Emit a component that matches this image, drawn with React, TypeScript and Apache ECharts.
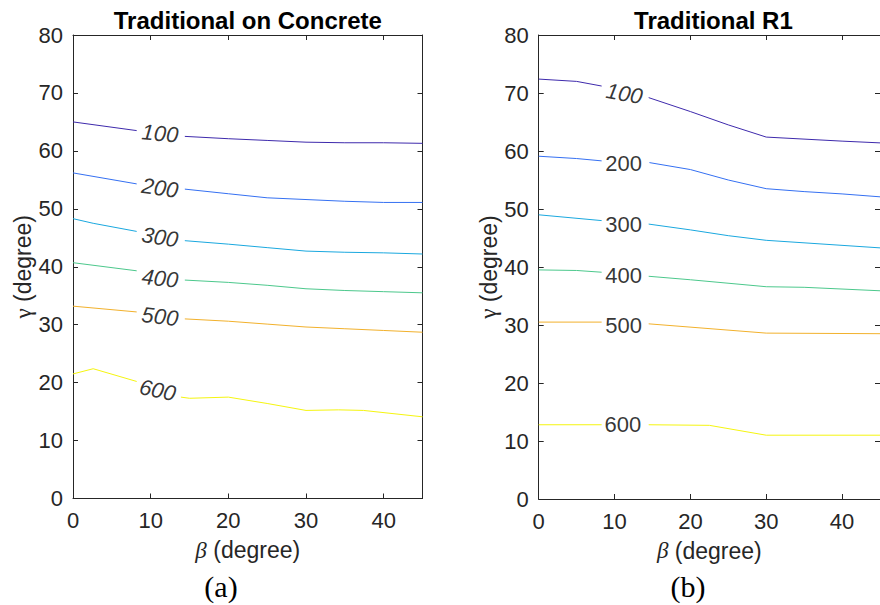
import React, { useEffect, useRef } from "react";
import * as echarts from "echarts";

// ---------- data ----------
const levels = ["100", "200", "300", "400", "500", "600"];
const betaTicks = [0, 10, 20, 30, 40];
const gammaTicks = [0, 10, 20, 30, 40, 50, 60, 70, 80];

// (a) Traditional on Concrete : contour lines [beta, gamma]
const concrete100 = [[0, 65.0], [8.2, 63.5], [14.4, 62.5], [20, 62.1], [25, 61.8], [30, 61.5], [35, 61.4], [40, 61.4], [45, 61.3]];
const concrete200 = [[0, 56.2], [8.2, 54.3], [14.4, 53.4], [20, 52.6], [25, 51.9], [30, 51.6], [35, 51.3], [40, 51.1], [45, 51.1]];
const concrete300 = [[0, 48.3], [2.6, 47.5], [8.2, 46.1], [14.4, 44.5], [20, 43.9], [25, 43.3], [30, 42.7], [35, 42.5], [40, 42.4], [45, 42.2]];
const concrete400 = [[0, 40.7], [8.2, 39.3], [14.4, 37.7], [20, 37.3], [25, 36.8], [30, 36.2], [35, 35.9], [40, 35.7], [45, 35.5]];
const concrete500 = [[0, 33.2], [8.2, 32.2], [14.4, 31.0], [20, 30.6], [25, 30.1], [30, 29.6], [35, 29.3], [40, 29.0], [45, 28.7]];
const concrete600 = [[0, 21.5], [2.6, 22.4], [8.2, 20.2], [13.9, 17.5], [15, 17.3], [20, 17.5], [25, 16.4], [30, 15.2], [34.2, 15.3], [37.4, 15.2], [45, 14.1]];
const concreteGapStart = [8.2, 8.2, 8.2, 8.2, 8.2, 8.2];
const concreteGapEnd = [14.4, 14.4, 14.4, 14.4, 14.4, 13.9];
const concreteLabelBeta = [11.2, 11.2, 11.2, 11.2, 11.2, 10.9];
const concreteLabelGamma = [63.0, 53.6, 45.1, 38.0, 31.4, 18.7];

// (b) Traditional R1
const r1_100 = [[0, 72.4], [5, 72.0], [8.3, 71.2], [14.5, 69.2], [20, 66.8], [25, 64.5], [30, 62.4], [40, 61.7], [45, 61.4]];
const r1_200 = [[0, 59.1], [5, 58.7], [8.3, 58.3], [14.6, 58.0], [20, 56.8], [25, 55.0], [30, 53.5], [35, 53.0], [40, 52.6], [45, 52.1]];
const r1_300 = [[0, 49.0], [8.3, 48.0], [14.5, 47.4], [20, 46.4], [25, 45.4], [30, 44.6], [45, 43.3]];
const r1_400 = [[0, 39.5], [5, 39.4], [8.3, 39.1], [14.5, 38.4], [20, 37.8], [30, 36.6], [35, 36.5], [45, 35.9]];
const r1_500 = [[0, 30.5], [8.3, 30.5], [14.5, 30.2], [30, 28.6], [45, 28.5]];
const r1_600 = [[0, 12.8], [8.3, 12.8], [14.5, 12.8], [22.5, 12.7], [30, 11.0], [45, 11.0]];
const r1GapStart = [8.3, 8.3, 8.3, 8.3, 8.3, 8.3];
const r1GapEnd = [14.5, 14.6, 14.5, 14.5, 14.5, 14.5];
const r1LabelBeta = [11.3, 11.2, 11.2, 11.2, 11.2, 11.1];
const r1LabelGamma = [69.9, 57.9, 47.4, 38.6, 30.0, 12.8];

// ---------- styles ----------
const lineColors = ["#3e2aac", "#3570f2", "#1aa8df", "#4cc88c", "#f2b12c", "#f5f50f"];
const concreteLabelRotate = [-5, -8, -9, -6, -7, -12];
const concreteLabelItalic = [true, true, true, true, true, true];
const r1LabelRotate = [-10, 0, 0, 0, 0, 0];
const r1LabelItalic = [true, false, false, false, false, false];

const AXIS = "#262626";
const SANS = "'Liberation Sans', Arial, Helvetica, sans-serif";
const SERIF = "'Liberation Serif', 'Times New Roman', serif";

function splitAtGap(pts: number[][], g0: number, g1: number) {
  return {
    before: pts.filter((p) => p[0] <= g0),
    after: pts.filter((p) => p[0] >= g1),
  };
}

function buildSeries(
  lines: number[][][],
  gapStart: number[],
  gapEnd: number[],
  lb: number[],
  lg: number[],
  rot: number[],
  ital: boolean[],
  axisIndex: number
) {
  const out: any[] = [];
  lines.forEach((pts, i) => {
    const { before, after } = splitAtGap(pts, gapStart[i], gapEnd[i]);
    [before, after].forEach((seg) => {
      out.push({
        type: "line",
        xAxisIndex: axisIndex,
        yAxisIndex: axisIndex,
        data: seg,
        showSymbol: false,
        symbol: "none",
        lineStyle: { color: lineColors[i], width: 1 },
        z: 2,
      });
    });
  });
  out.push({
    type: "scatter",
    xAxisIndex: axisIndex,
    yAxisIndex: axisIndex,
    symbolSize: 0,
    data: levels.map((lv, i) => ({
      value: [lb[i], lg[i]],
      name: lv,
      label: {
        show: true,
        position: "inside",
        formatter: lv,
        rotate: rot[i],
        fontStyle: ital[i] ? "italic" : "normal",
        fontFamily: SANS,
        fontSize: 22,
        color: "#000",
      },
    })),
    z: 3,
  });
  return out;
}

function mainX(gridIndex: number) {
  return {
    gridIndex,
    type: "value",
    min: 0,
    max: 45,
    interval: 10,
    position: "bottom",
    name: "{b|β} (degree)",
    nameLocation: "middle",
    nameGap: 40,
    nameTextStyle: {
      fontFamily: SANS,
      fontSize: 23,
      color: AXIS,
      rich: { b: { fontFamily: SERIF, fontStyle: "italic", fontSize: 23, color: AXIS } },
    },
    axisLine: { show: true, onZero: false, lineStyle: { color: AXIS, width: 1 } },
    axisTick: { show: true, inside: true, length: 5, lineStyle: { color: AXIS } },
    axisLabel: { show: true, margin: 11, fontFamily: SANS, fontSize: 22, color: AXIS, customValues: betaTicks },
    splitLine: { show: false },
  };
}
function topX(gridIndex: number) {
  return {
    gridIndex,
    type: "value",
    min: 0,
    max: 45,
    interval: 10,
    position: "top",
    axisLine: { show: true, onZero: false, lineStyle: { color: AXIS, width: 1 } },
    axisTick: { show: true, inside: true, length: 5, lineStyle: { color: AXIS } },
    axisLabel: { show: false },
    splitLine: { show: false },
  };
}
function mainY(gridIndex: number) {
  return {
    gridIndex,
    type: "value",
    min: 0,
    max: 80,
    interval: 10,
    position: "left",
    name: "{g|γ} (degree)",
    nameLocation: "middle",
    nameGap: 35,
    nameTextStyle: {
      fontFamily: SANS,
      fontSize: 23,
      color: AXIS,
      rich: { g: { fontFamily: SERIF, fontSize: 23, color: AXIS } },
    },
    axisLine: { show: true, onZero: false, lineStyle: { color: AXIS, width: 1 } },
    axisTick: { show: true, inside: true, length: 5, lineStyle: { color: AXIS } },
    axisLabel: { show: true, margin: 10, fontFamily: SANS, fontSize: 22, color: AXIS, customValues: gammaTicks },
    splitLine: { show: false },
  };
}
function rightY(gridIndex: number) {
  return {
    gridIndex,
    type: "value",
    min: 0,
    max: 80,
    interval: 10,
    position: "right",
    axisLine: { show: true, onZero: false, lineStyle: { color: AXIS, width: 1 } },
    axisTick: { show: true, inside: true, length: 5, lineStyle: { color: AXIS } },
    axisLabel: { show: false },
    splitLine: { show: false },
  };
}

export default function App() {
  const ref = useRef<HTMLDivElement>(null);
  useEffect(() => {
    if (!ref.current) return;
    const chart = echarts.init(ref.current, undefined, { renderer: "svg" });
    const option: any = {
      animation: false,
      backgroundColor: "#fff",
      grid: [
        { left: 73, top: 35, width: 349.5, height: 463.5 },
        { left: 538.7, top: 35, width: 349.5, height: 464 },
      ],
      xAxis: [mainX(0), topX(0), mainX(1), topX(1)],
      yAxis: [mainY(0), rightY(0), mainY(1), rightY(1)],
      series: [
        ...buildSeries(
          [concrete100, concrete200, concrete300, concrete400, concrete500, concrete600],
          concreteGapStart, concreteGapEnd, concreteLabelBeta, concreteLabelGamma,
          concreteLabelRotate, concreteLabelItalic, 0
        ),
        ...buildSeries(
          [r1_100, r1_200, r1_300, r1_400, r1_500, r1_600],
          r1GapStart, r1GapEnd, r1LabelBeta, r1LabelGamma,
          r1LabelRotate, r1LabelItalic, 2
        ),
      ],
      graphic: [
        { type: "text", x: 247.8, y: 20, style: { text: "Traditional on Concrete", font: `bold 24px ${SANS}`, fill: "#000", textAlign: "center", textVerticalAlign: "middle" } },
        { type: "text", x: 713.4, y: 20, style: { text: "Traditional R1", font: `bold 24px ${SANS}`, fill: "#000", textAlign: "center", textVerticalAlign: "middle" } },
        { type: "text", x: 221, y: 586, style: { text: "(a)", font: `30px ${SERIF}`, fill: "#000", textAlign: "center", textVerticalAlign: "middle" } },
        { type: "text", x: 688, y: 586, style: { text: "(b)", font: `30px ${SERIF}`, fill: "#000", textAlign: "center", textVerticalAlign: "middle" } },
      ],
    };
    chart.setOption(option);
    return () => chart.dispose();
  }, []);
  return (
    <div
      ref={ref}
      style={{ position: "absolute", left: 0, top: 0, width: 880, height: 605, background: "#fff" }}
    />
  );
}
